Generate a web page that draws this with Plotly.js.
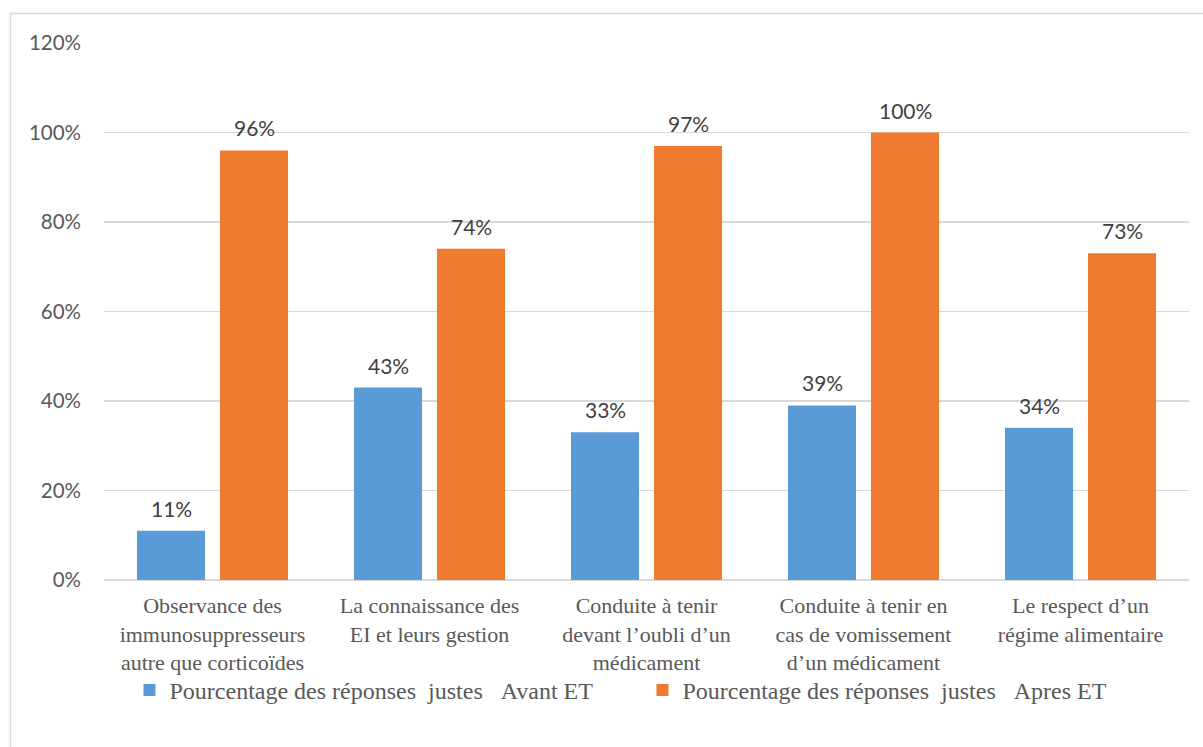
<!DOCTYPE html>
<html>
<head>
<meta charset="utf-8">
<script src="https://cdn.plot.ly/plotly-3.0.1.min.js"></script>
<style>html,body{margin:0;padding:0;background:#fff;}#chart{width:1203px;height:747px;}</style>
</head>
<body>
<div id="chart"></div>
<script>
const categories = [
  "Observance des<br>immunosuppresseurs<br>autre que corticoïdes",
  "La connaissance des<br>EI et leurs gestion",
  "Conduite à tenir<br>devant l’oubli d’un<br>médicament",
  "Conduite à tenir en<br>cas de vomissement<br>d’un médicament",
  "Le respect d’un<br>régime alimentaire"
];
const seriesNames = [
  "Pourcentage des réponses  justes   Avant ET",
  "Pourcentage des réponses  justes   Apres ET"
];
const avant = [0.11, 0.43, 0.33, 0.39, 0.34];
const apres = [0.96, 0.74, 0.97, 1.00, 0.73];
const yTicks = [0, 0.2, 0.4, 0.6, 0.8, 1.0, 1.2];

const colors = ["#5a9ad6", "#ee7b2f"];
const labelFont = {family: "Lato, 'Open Sans', sans-serif", size: 21, color: "#404040"};
const serif = "'Liberation Serif', 'Times New Roman', serif";

const traces = [avant, apres].map((vals, i) => ({
  type: "bar",
  name: seriesNames[i].replace(/ /g, "\u00a0"),
  x: categories,
  y: vals,
  marker: {color: colors[i], line: {width: 0}},
  hoverinfo: "none"
}));

const annotations = [];
[avant, apres].forEach((vals, i) => {
  vals.forEach((v, k) => {
    annotations.push({
      x: categories[k], y: v, xref: "x", yref: "y",
      text: Math.round(v * 100) + "%",
      showarrow: false, yanchor: "bottom",
      xshift: i === 0 ? -41.5 : 41.5, yshift: 8,
      font: labelFont
    });
  });
});

const layout = {
  width: 1203, height: 747,
  margin: {l: 104, r: 14, t: 43, b: 167},
  paper_bgcolor: "#ffffff", plot_bgcolor: "#ffffff",
  barmode: "group", bargap: 0.235, bargroupgap: 0.18,
  showlegend: true,
  legend: {
    orientation: "h", x: 0.4963, xanchor: "center", y: -0.1636, yanchor: "top",
    font: {family: serif, size: 24, color: "#595959"},
    bgcolor: "rgba(0,0,0,0)",
    entrywidth: 468, traceorder: "normal"
  },
  xaxis: {
    type: "category",
    tickfont: {family: serif, size: 22, color: "#595959"},
    showgrid: false, showline: false, zeroline: false, ticks: "",
    ticklabelstandoff: 10, automargin: false
  },
  yaxis: {
    range: [0, 1.2], tickvals: yTicks, tickformat: ".0%",
    tickfont: {family: "Lato, 'Open Sans', sans-serif", size: 20.5, color: "#595959"},
    showgrid: true, gridcolor: "#d9d9d9", gridwidth: 1.3,
    zeroline: true, zerolinecolor: "#d9d9d9", zerolinewidth: 1.3,
    showline: false, ticks: "", ticklabelstandoff: 22, automargin: false
  },
  annotations: annotations,
  shapes: [{
    type: "rect", xref: "paper", yref: "paper",
    x0: -0.0862, x1: 1.1, y0: -0.6, y1: 1.055,
    line: {color: "#d9d9d9", width: 1.5}, fillcolor: "rgba(0,0,0,0)", layer: "below"
  }]
};

Plotly.newPlot("chart", traces, layout, {displayModeBar: false, staticPlot: true});
</script>
</body>
</html>
